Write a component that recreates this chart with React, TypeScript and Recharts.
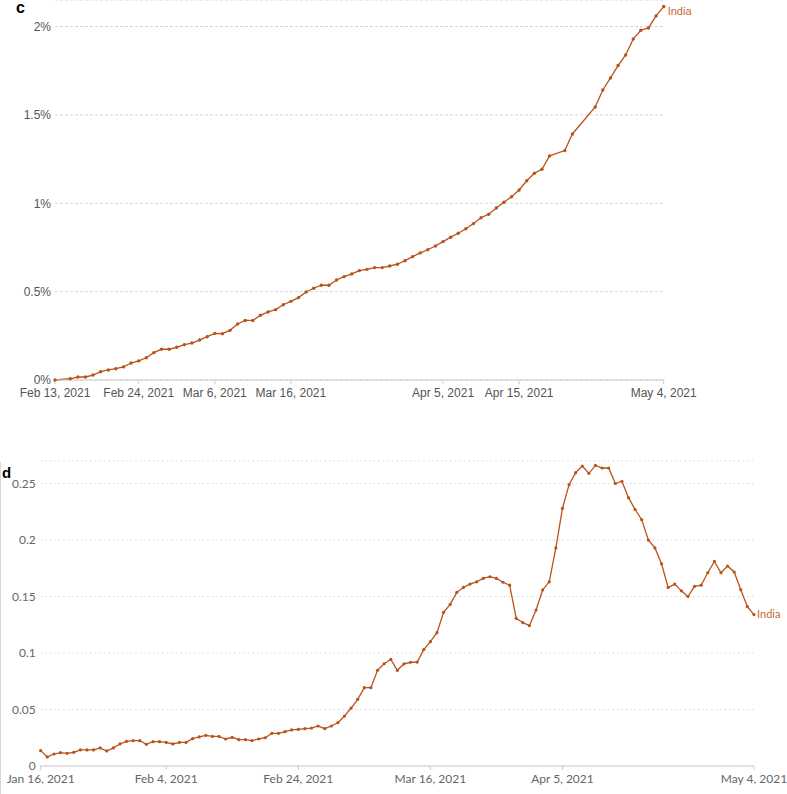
import React from "react"
import {
  LineChart,
  Line,
  XAxis,
  YAxis,
  CartesianGrid,
  LabelList,
} from "recharts"

// panel c: share of population, days after Feb 13, 2021 (some days missing)
const topDays = [
  0, 2, 3, 4, 5, 6, 7, 8, 9, 10, 11, 12, 13, 14, 15, 16, 17, 18, 19, 20, 21, 22,
  23, 24, 25, 26, 27, 28, 29, 30, 31, 32, 33, 34, 35, 36, 37, 38, 39, 40, 41, 42,
  43, 44, 45, 46, 47, 48, 49, 50, 51, 52, 53, 54, 55, 56, 57, 58, 59, 60, 61, 62,
  63, 64, 65, 67, 68, 71, 72, 73, 74, 75, 76, 77, 78, 79, 80,
]
const topShare = [
  0.0, 0.007, 0.017, 0.017, 0.028, 0.047, 0.057, 0.064, 0.074, 0.096, 0.108,
  0.126, 0.155, 0.174, 0.174, 0.185, 0.2, 0.209, 0.226, 0.245, 0.264, 0.262,
  0.281, 0.317, 0.337, 0.337, 0.366, 0.385, 0.398, 0.426, 0.445, 0.466, 0.498,
  0.519, 0.536, 0.536, 0.566, 0.585, 0.6, 0.619, 0.626, 0.636, 0.636, 0.645,
  0.655, 0.675, 0.698, 0.719, 0.737, 0.758, 0.783, 0.808, 0.83, 0.856, 0.885,
  0.918, 0.938, 0.973, 1.006, 1.037, 1.075, 1.127, 1.17, 1.192, 1.268, 1.298,
  1.392, 1.545, 1.641, 1.709, 1.779, 1.839, 1.93, 1.979, 1.992, 2.06, 2.113,
]
const topTickDays = [0, 11, 21, 31, 51, 61, 80]
const topTickLabels = [
  "Feb 13, 2021",
  "Feb 24, 2021",
  "Mar 6, 2021",
  "Mar 16, 2021",
  "Apr 5, 2021",
  "Apr 15, 2021",
  "May 4, 2021",
]
const topYTicks = [0, 0.5, 1, 1.5, 2]

// panel d: daily values from Jan 16, 2021 to May 4, 2021
const bottomValues = [
  0.0136, 0.008, 0.0106, 0.0118, 0.0112, 0.0121, 0.0142, 0.0142, 0.0142, 0.016,
  0.0133, 0.016, 0.0195, 0.0218, 0.0224, 0.0224, 0.0192, 0.0215, 0.0215, 0.0209,
  0.0195, 0.0209, 0.0209, 0.0242, 0.0257, 0.0271, 0.0262, 0.0262, 0.0239, 0.0254,
  0.0233, 0.0233, 0.0224, 0.0239, 0.025, 0.0289, 0.0289, 0.0304, 0.0319, 0.0324,
  0.033, 0.0336, 0.0354, 0.033, 0.0354, 0.0383, 0.0442, 0.0513, 0.059, 0.0693,
  0.0693, 0.0847, 0.0905, 0.0944, 0.0847, 0.0903, 0.0918, 0.092, 0.103, 0.11,
  0.118, 0.136, 0.143, 0.1537, 0.158, 0.161, 0.163, 0.166, 0.1675, 0.166,
  0.1626, 0.16, 0.1307, 0.1268, 0.1242, 0.138, 0.1558, 0.163, 0.193, 0.228,
  0.249, 0.2596, 0.2655, 0.259, 0.266, 0.2637, 0.2637, 0.25, 0.252, 0.2375,
  0.227, 0.218, 0.2, 0.193, 0.179, 0.158, 0.161, 0.155, 0.15, 0.159, 0.16,
  0.171, 0.181, 0.171, 0.177, 0.1717, 0.156, 0.141, 0.134,
]
const bottomTickDays = [0, 19, 39, 59, 79, 108]
const bottomTickLabels = [
  "Jan 16, 2021",
  "Feb 4, 2021",
  "Feb 24, 2021",
  "Mar 16, 2021",
  "Apr 5, 2021",
  "May 4, 2021",
]
const bottomYTicks = [0, 0.05, 0.1, 0.15, 0.2, 0.25]

const LINE = "#b9521b"
const LABEL = "#c4692f"
const AXIS = "#cccccc"
const GRID = "#d6d6d6"
const ARIAL = "Arial, 'Liberation Sans', sans-serif"
const LATO = "Lato, 'Open Sans', sans-serif"

const topData = topDays.map((d, i) => ({ day: d, v: topShare[i] }))
const bottomData = bottomValues.map((v, i) => ({ day: i, v }))

function seriesLabel(lastIndex: number, dx: number, dy: number, font: string) {
  return (props: any) => {
    if (props.index !== lastIndex) return null
    return (
      <text
        x={Number(props.x) + dx}
        y={Number(props.y) + dy}
        dy="0.35em"
        fill={LABEL}
        fontSize={11}
        fontFamily={font}
      >
        India
      </text>
    )
  }
}

export default function App() {
  return (
    <div
      style={{
        position: "absolute",
        left: 0,
        top: 0,
        width: 787,
        height: 794,
        overflow: "hidden",
        background: "#fff",
      }}
    >
      <div
        style={{
          position: "absolute",
          left: 16,
          top: 1,
          height: 14,
          lineHeight: "14px",
          fontFamily: ARIAL,
          fontWeight: "bold",
          fontSize: 16,
        }}
      >
        c
      </div>
      <div style={{ position: "absolute", left: 0, top: 0 }}>
        <LineChart
          width={787}
          height={410}
          data={topData}
          margin={{ top: 0, right: 123.3, left: 0, bottom: 0 }}
        >
          <CartesianGrid
            vertical={false}
            stroke={GRID}
            strokeDasharray="3 2"
          />
          <XAxis
            dataKey="day"
            type="number"
            domain={[0, 80]}
            ticks={topTickDays}
            tickFormatter={(d: number) => topTickLabels[topTickDays.indexOf(d)]}
            interval={0}
            height={30}
            stroke={AXIS}
            tickSize={4}
            tickMargin={4}
            tick={{ fill: "#555", fontSize: 12, fontFamily: ARIAL }}
          />
          <YAxis
            type="number"
            domain={[0, 2.15]}
            ticks={topYTicks}
            tickFormatter={(v: number) => `${v}%`}
            width={55}
            axisLine={false}
            tickLine={false}
            tickSize={4}
            tickMargin={0}
            tick={{ fill: "#555", fontSize: 12, fontFamily: ARIAL }}
          />
          <Line
            dataKey="v"
            stroke={LINE}
            strokeWidth={1.3}
            dot={{ r: 1.7, fill: LINE, stroke: "none" }}
            isAnimationActive={false}
          >
            <LabelList
              dataKey="v"
              content={seriesLabel(topData.length - 1, 4, 5, ARIAL)}
            />
          </Line>
        </LineChart>
      </div>

      <div
        style={{
          position: "absolute",
          left: 0,
          top: 462,
          width: 1,
          height: 332,
          background: "#d8d8d8",
        }}
      />
      <div
        style={{
          position: "absolute",
          left: 2,
          top: 464,
          fontFamily: ARIAL,
          fontWeight: "bold",
          fontSize: 15,
          lineHeight: "17px",
        }}
      >
        d
      </div>
      <div style={{ position: "absolute", left: 0, top: 450 }}>
        <LineChart
          width={787}
          height={344}
          data={bottomData}
          margin={{ top: 10.9, right: 33, left: 0, bottom: 0 }}
        >
          <CartesianGrid
            vertical={false}
            stroke={GRID}
            strokeDasharray="1.5 3"
          />
          <XAxis
            dataKey="day"
            type="number"
            domain={[0, 108]}
            ticks={bottomTickDays}
            tickFormatter={(d: number) =>
              bottomTickLabels[bottomTickDays.indexOf(d)]
            }
            interval={0}
            height={28}
            stroke={AXIS}
            tickSize={4}
            tickMargin={4}
            tick={{ fill: "#666", fontSize: 12, fontFamily: LATO }}
          />
          <YAxis
            type="number"
            domain={[0, 0.27]}
            ticks={bottomYTicks}
            width={40.7}
            axisLine={false}
            tickLine={false}
            tickSize={5}
            tickMargin={0}
            tick={{ fill: "#666", fontSize: 12, fontFamily: LATO }}
          />
          <Line
            dataKey="v"
            stroke={LINE}
            strokeWidth={1.3}
            dot={{ r: 1.6, fill: LINE, stroke: "none" }}
            isAnimationActive={false}
          >
            <LabelList
              dataKey="v"
              content={seriesLabel(bottomData.length - 1, 3, 0, LATO)}
            />
          </Line>
        </LineChart>
      </div>
    </div>
  )
}
